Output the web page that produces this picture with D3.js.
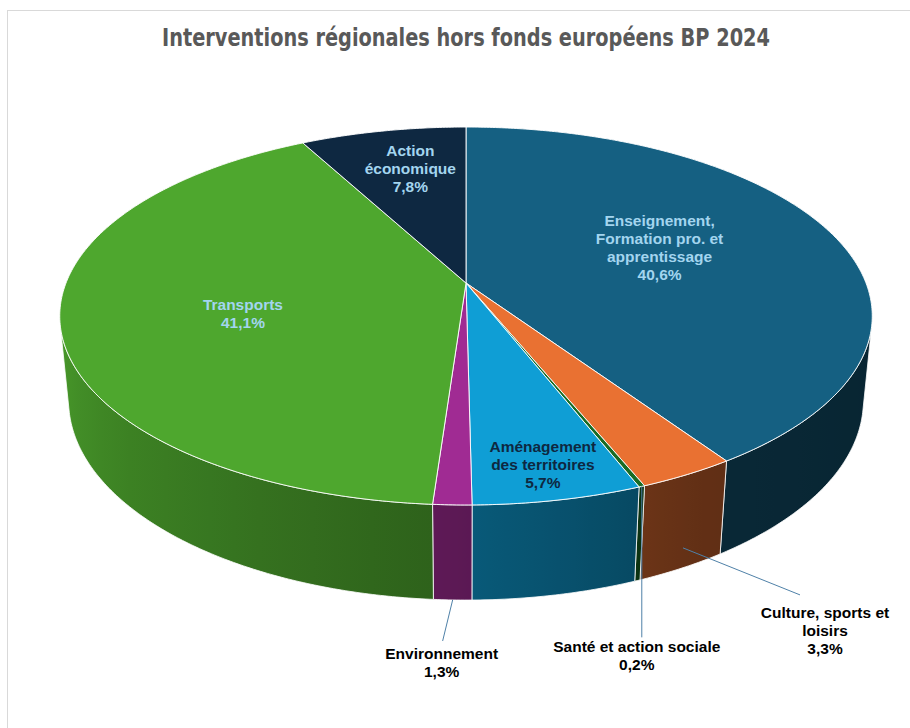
<!DOCTYPE html>
<html>
<head>
<meta charset="utf-8">
<script src="https://cdn.jsdelivr.net/npm/d3@7"></script>
<style>
  body { margin: 0; background: #fff; }
  svg { display: block; }
</style>
</head>
<body>
<script>
// data
var categories = [
  ["Enseignement,", "Formation pro. et", "apprentissage"],
  ["Culture, sports et", "loisirs"],
  ["Santé et action sociale"],
  ["Aménagement", "des territoires"],
  ["Environnement"],
  ["Transports"],
  ["Action", "économique"]
];
var values = [40.6, 3.3, 0.2, 5.7, 1.3, 41.1, 7.8];
var colors = ["#156082", "#E97132", "#196B24", "#0F9ED5", "#A02B93", "#4EA72E", "#0E2841"];
var title = "Interventions régionales hors fonds européens BP 2024";

// label placement (inside: radius factor + angle shift in degrees, outside: leader)
var labelInside = [true, false, false, true, false, true, true];
var labelRadius = [0.54, 1, 1, 0.86, 1, 0.565, 0.72];
var labelShift = [-5, 0, 0, 0, 0, -4.3, 1.5];
var labelColor = ["#A3D5EF", "#000", "#000", "#0E2841", "#000", "#A3D5EF", "#A3D5EF"];
// outside labels: leader start height (fraction of thickness), label offset and leader end offset from start
var leaderZ = [0, 0.78, 0, 0, 1, 0, 0];
var labelOffset = [null, [142, 82], [-5, 169], null, [-11, 62], null, null];
var leaderEnd = [null, [117, 47], [0, 151], null, [-10, 41], null, null];

var svgWidth = 910, svgHeight = 728;
var svg = d3.select("body").append("svg")
    .attr("width", svgWidth)
    .attr("height", svgHeight);

svg.append("rect")
    .attr("x", 7.5).attr("y", 10.5)
    .attr("width", 1000).attr("height", 1000)
    .attr("fill", "#fff")
    .attr("stroke", "#D9D9D9");

// title
var titleText = svg.append("text")
    .attr("x", 466)
    .attr("y", 46)
    .attr("text-anchor", "middle")
    .attr("font-family", "'Liberation Sans Narrow', 'DejaVu Sans Condensed', 'Arial Narrow', sans-serif")
    .attr("font-weight", "bold")
    .attr("font-size", 24)
    .attr("fill", "#595959")
    .text(title);
var tw = titleText.node().getComputedTextLength();
if (Math.abs(tw - 608) > 6) {
  titleText.attr("textLength", 608).attr("lengthAdjust", "spacingAndGlyphs");
}

// 3d projection of the pie
var cx = 466, cy = 283;
var F = 2036, D = 5.09;
var sinP = 0.458, cosP = Math.sqrt(1 - sinP * sinP);
var thick = 0.24;

function project(theta, r, z) {
  var x = r * Math.sin(theta);
  var y = r * Math.cos(theta) + D * cosP;
  var zz = z - D * sinP;
  var depth = y * cosP - zz * sinP;
  var up = y * sinP + zz * cosP;
  return [cx + F * x / depth, cy - F * up / depth];
}

function arcPoints(a, b, r, z) {
  var n = Math.max(2, Math.ceil((b - a) / (Math.PI / 360)));
  var pts = [];
  for (var i = 0; i <= n; i++) {
    pts.push(project(a + (b - a) * i / n, r, z));
  }
  return pts;
}

var pie = d3.pie().sort(null).value(function(d) { return d; });
var arcs = pie(values);
var line = d3.line();

// side shading depending on the wall direction
var shade = d3.scaleLinear()
    .domain([100, 150, 180, 230, 260])
    .range([0.38, 0.42, 0.57, 0.78, 0.93])
    .clamp(true);
function shadeColor(c, theta) {
  var f = shade(theta * 180 / Math.PI);
  var rgb = d3.rgb(c);
  return d3.rgb(rgb.r * f, rgb.g * f, rgb.b * f).formatHex();
}

var tv1 = Math.acos(-1 / (D * cosP));
var tv2 = 2 * Math.PI - tv1;

var defs = svg.append("defs");
var walls = svg.append("g");

arcs.forEach(function(d, i) {
  var a = Math.max(d.startAngle, tv1);
  var b = Math.min(d.endAngle, tv2);
  if (a >= b) return;

  var x1 = project(a, 1, 0)[0], x2 = project(b, 1, 0)[0];
  var grad = defs.append("linearGradient")
      .attr("id", "wall" + i)
      .attr("gradientUnits", "userSpaceOnUse")
      .attr("x1", x1).attr("x2", x2)
      .attr("y1", 0).attr("y2", 0);
  for (var k = 0; k <= 10; k++) {
    var t = a + (b - a) * k / 10;
    var xx = project(t, 1, 0)[0];
    var off = x2 === x1 ? 0 : (xx - x1) / (x2 - x1);
    grad.append("stop")
        .attr("offset", Math.max(0, Math.min(1, off)))
        .attr("stop-color", shadeColor(colors[i], t));
  }

  var pts = arcPoints(a, b, 1, 0).concat(arcPoints(a, b, 1, -thick).reverse());
  walls.append("path")
      .attr("d", line(pts) + "Z")
      .attr("fill", "url(#wall" + i + ")")
      .attr("stroke", "#fff")
      .attr("stroke-width", 0.8)
      .attr("stroke-linejoin", "round");
});

// top faces
svg.append("g").selectAll("path")
  .data(arcs)
  .enter()
  .append("path")
  .attr("d", function(d) {
    var pts = [project(0, 0, 0)].concat(arcPoints(d.startAngle, d.endAngle, 1, 0));
    return line(pts) + "Z";
  })
  .attr("fill", function(d, i) { return colors[i]; })
  .attr("stroke", "#fff")
  .attr("stroke-width", 0.9)
  .attr("stroke-linejoin", "round");

// labels
var fmt = function(v) { return d3.format(".1f")(v).replace(".", ",") + "%"; };
var lineH = 18;
var lab = svg.append("g")
    .attr("font-family", "'Liberation Sans', Arial, sans-serif")
    .attr("font-weight", "bold")
    .attr("font-size", 15.5)
    .attr("text-anchor", "middle");

arcs.forEach(function(d, i) {
  var mid = (d.startAngle + d.endAngle) / 2;
  var lines = categories[i].concat([fmt(values[i])]);
  var pos;
  if (labelInside[i]) {
    pos = project(mid + labelShift[i] * Math.PI / 180, labelRadius[i], 0);
  } else {
    var start = project(mid, 1, -thick * leaderZ[i]);
    pos = [start[0] + labelOffset[i][0], start[1] + labelOffset[i][1]];
    svg.append("line")
        .attr("x1", start[0]).attr("y1", start[1])
        .attr("x2", start[0] + leaderEnd[i][0]).attr("y2", start[1] + leaderEnd[i][1])
        .attr("stroke", "#4F81A8")
        .attr("stroke-width", 1);
  }
  var top = pos[1] - (lines.length - 1) * lineH / 2;
  var t = lab.append("text")
      .attr("fill", labelColor[i])
      .attr("dominant-baseline", "central");
  lines.forEach(function(s, j) {
    t.append("tspan")
        .attr("x", pos[0])
        .attr("y", top + j * lineH)
        .text(s);
  });
});
</script>
</body>
</html>
